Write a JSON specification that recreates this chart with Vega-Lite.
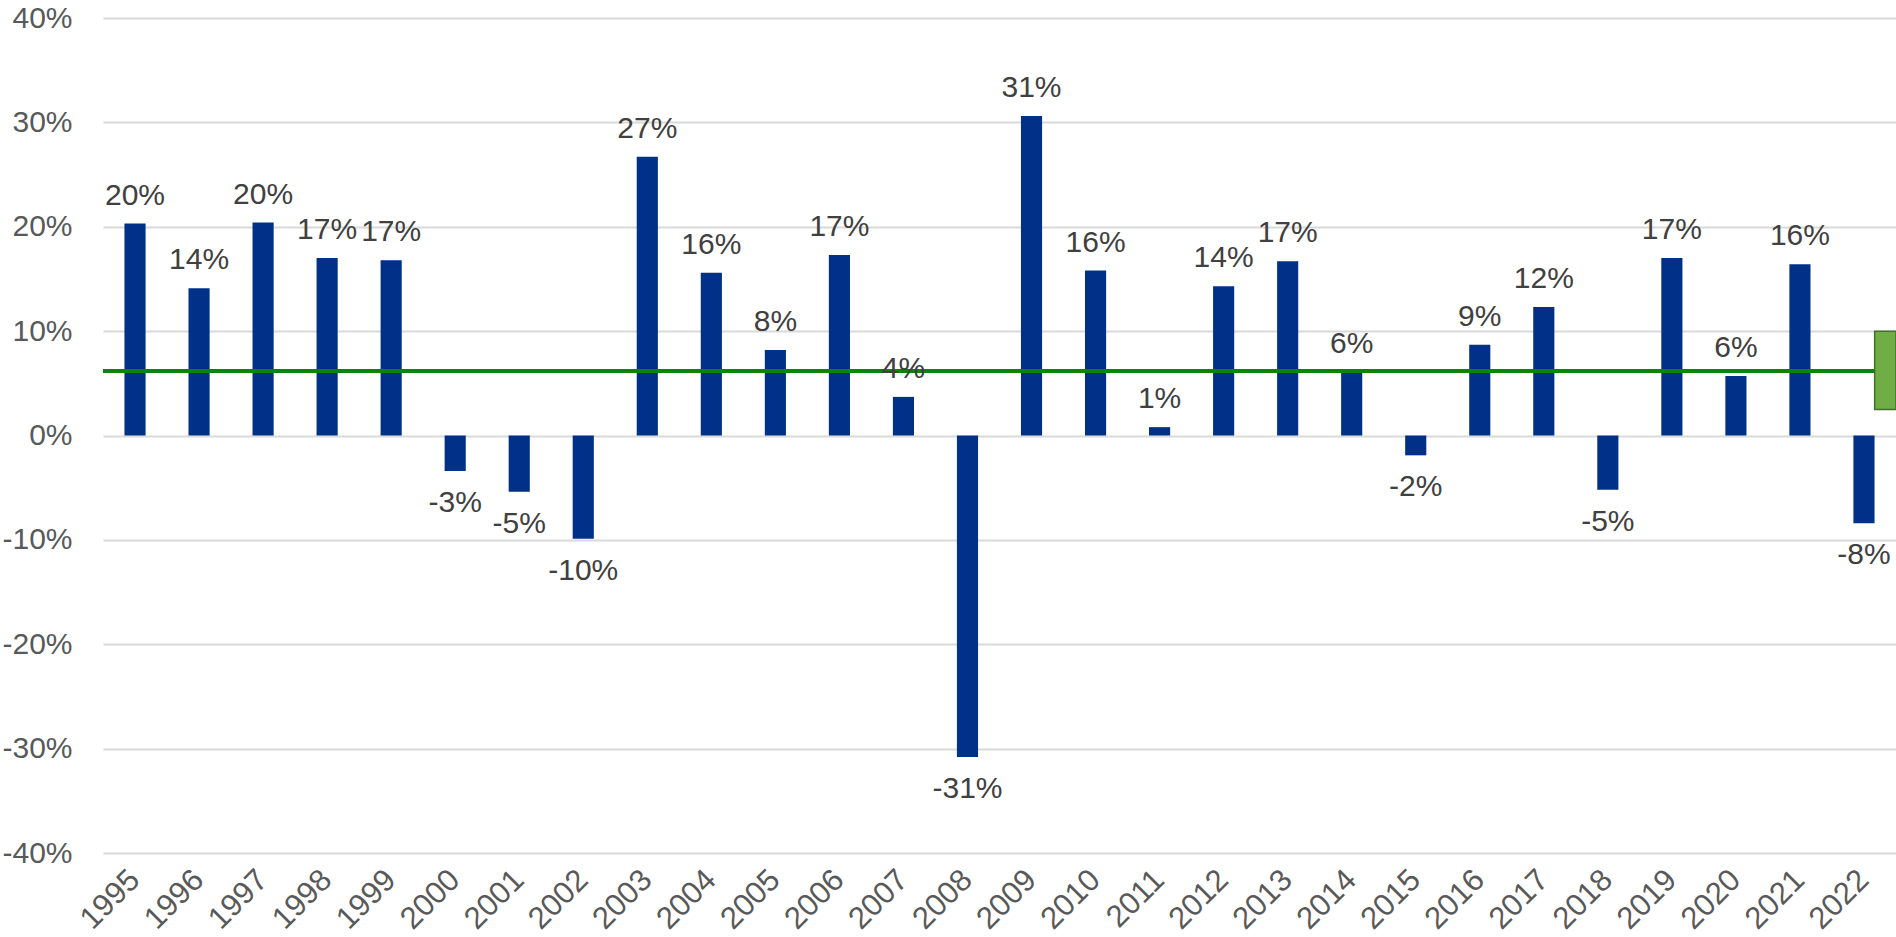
{
  "$schema": "https://vega.github.io/schema/vega-lite/v6.json",
  "width": 1793,
  "height": 835,
  "autosize": {"type": "none"},
  "padding": {"left": 103, "top": 18, "right": 0, "bottom": 84},
  "background": "white",
  "config": {
    "view": {"stroke": null},
    "font": "Liberation Sans",
    "locale": {"number": {"decimal": ".", "thousands": ",", "grouping": [3], "currency": ["$", ""], "minus": "-"}},
    "axis": {"labelFont": "Liberation Sans", "labelColor": "#595959"}
  },
  "datasets": {
    "returns": [
      {"year": "1995", "ret": 0.203},
      {"year": "1996", "ret": 0.141},
      {"year": "1997", "ret": 0.204},
      {"year": "1998", "ret": 0.170},
      {"year": "1999", "ret": 0.168},
      {"year": "2000", "ret": -0.034},
      {"year": "2001", "ret": -0.054},
      {"year": "2002", "ret": -0.099},
      {"year": "2003", "ret": 0.267},
      {"year": "2004", "ret": 0.156},
      {"year": "2005", "ret": 0.082},
      {"year": "2006", "ret": 0.173},
      {"year": "2007", "ret": 0.037},
      {"year": "2008", "ret": -0.308},
      {"year": "2009", "ret": 0.306},
      {"year": "2010", "ret": 0.158},
      {"year": "2011", "ret": 0.008},
      {"year": "2012", "ret": 0.143},
      {"year": "2013", "ret": 0.167},
      {"year": "2014", "ret": 0.061},
      {"year": "2015", "ret": -0.019},
      {"year": "2016", "ret": 0.087},
      {"year": "2017", "ret": 0.123},
      {"year": "2018", "ret": -0.052},
      {"year": "2019", "ret": 0.170},
      {"year": "2020", "ret": 0.057},
      {"year": "2021", "ret": 0.164},
      {"year": "2022", "ret": -0.084}
    ],
    "forecast": [
      {"year": "2022", "series": "forecast", "lo": 0.025, "hi": 0.10}
    ]
  },
  "encoding": {
    "x": {
      "field": "year",
      "type": "ordinal",
      "scale": {"paddingInner": 0, "paddingOuter": 0},
      "axis": {
        "title": null,
        "domain": false,
        "ticks": false,
        "labelAngle": -45,
        "labelAlign": "right",
        "labelBaseline": "middle",
        "labelPadding": 22,
        "labelFontSize": 31,
        "labelOverlap": false
      }
    }
  },
  "layer": [
    {
      "data": {"name": "returns"},
      "mark": {"type": "bar", "color": "#003087", "width": {"band": 0.33}},
      "encoding": {
        "y": {
          "field": "ret",
          "type": "quantitative",
          "scale": {"domain": [-0.4, 0.4], "nice": false},
          "axis": {
            "title": null,
            "values": [-0.4, -0.3, -0.2, -0.1, 0, 0.1, 0.2, 0.3, 0.4],
            "format": ".0%",
            "domain": false,
            "ticks": false,
            "labelPadding": 31,
            "labelFontSize": 30,
            "gridColor": "#d9d9d9",
            "gridWidth": 2
          }
        }
      }
    },
    {
      "data": {"name": "returns"},
      "mark": {"type": "rule", "color": "#0a840a", "strokeWidth": 3.5},
      "encoding": {"y": {"datum": 0.0615, "type": "quantitative"}, "x": null}
    },
    {
      "data": {"name": "forecast"},
      "mark": {"type": "bar", "color": "#70AD47", "stroke": "#41702A", "strokeWidth": 1.5},
      "encoding": {
        "xOffset": {"field": "series", "type": "nominal", "scale": {"domain": ["a", "b", "forecast"]}},
        "y": {"field": "hi", "type": "quantitative"},
        "y2": {"field": "lo"}
      }
    },
    {
      "data": {"name": "returns"},
      "transform": [{"filter": "datum.ret >= 0"}],
      "mark": {"type": "text", "fontSize": 30, "color": "#404040", "baseline": "alphabetic", "dy": -19, "font": "Liberation Sans"},
      "encoding": {
        "y": {"field": "ret", "type": "quantitative"},
        "text": {"field": "ret", "type": "quantitative", "format": ".0%"}
      }
    },
    {
      "data": {"name": "returns"},
      "transform": [{"filter": "datum.ret < 0"}],
      "mark": {"type": "text", "fontSize": 30, "color": "#404040", "baseline": "alphabetic", "dy": 41, "font": "Liberation Sans"},
      "encoding": {
        "y": {"field": "ret", "type": "quantitative"},
        "text": {"field": "ret", "type": "quantitative", "format": ".0%"}
      }
    }
  ]
}
